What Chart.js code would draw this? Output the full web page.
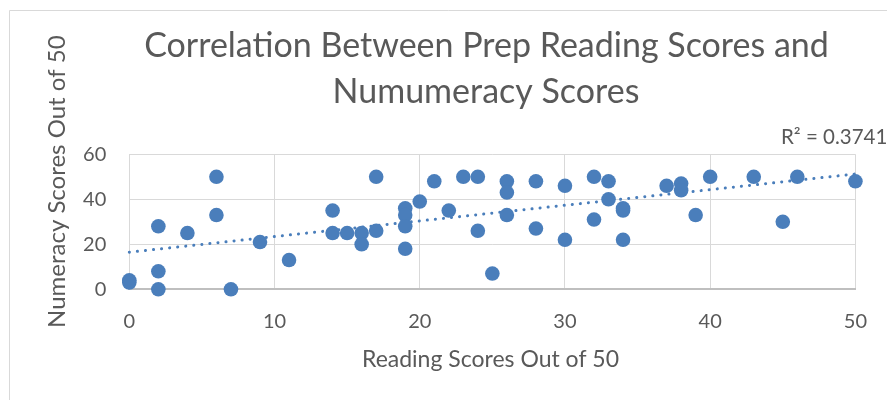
<!DOCTYPE html>
<html>
<head>
<meta charset="utf-8">
<script src="https://cdn.jsdelivr.net/npm/chart.js@4.4.1/dist/chart.umd.min.js"></script>
<style>
  html, body { margin: 0; padding: 0; background: #ffffff; }
  canvas { display: block; }
</style>
</head>
<body>
<canvas id="c" width="887" height="400"></canvas>
<script>
// ---- Data ----
const readingScores = [0, 0, 2, 2, 2, 4, 6, 6, 7, 9, 11, 14, 14, 15, 16, 16, 17, 17, 19, 19, 19, 19, 20, 21, 22, 23, 24, 24, 25, 26, 26, 26, 28, 28, 30, 30, 32, 32, 33, 33, 34, 34, 34, 37, 38, 38, 39, 40, 43, 45, 46, 50];
const numeracyScores = [4, 3, 0, 8, 28, 25, 50, 33, 0, 21, 13, 35, 25, 25, 25, 20, 50, 26, 36, 33, 28, 18, 39, 48, 35, 50, 50, 26, 7, 48, 43, 33, 48, 27, 46, 22, 50, 31, 48, 40, 36, 35, 22, 46, 47, 44, 33, 50, 50, 30, 50, 48];
const xTicks = [0, 10, 20, 30, 40, 50];
const yTicks = [0, 20, 40, 60];
const titleLines = ["Correlation Between Prep Reading Scores and", "Numumeracy Scores"];
const xAxisTitle = "Reading Scores Out of 50";
const yAxisTitle = "Numeracy Scores Out of 50";
const rSquaredLabel = "R\u00B2 = 0.3741";

// ---- Linear trendline (least squares over the data) ----
const n = readingScores.length;
const mx = readingScores.reduce((a, b) => a + b, 0) / n;
const my = numeracyScores.reduce((a, b) => a + b, 0) / n;
let sxy = 0, sxx = 0;
for (let i = 0; i < n; i++) {
  sxy += (readingScores[i] - mx) * (numeracyScores[i] - my);
  sxx += (readingScores[i] - mx) ** 2;
}
const slope = sxy / sxx;
const intercept = my - slope * mx;
const trendX = [xTicks[0], xTicks[xTicks.length - 1]];

const points = readingScores.map((x, i) => ({ x: x, y: numeracyScores[i] }));
const trendPoints = trendX.map(x => ({ x: x, y: intercept + slope * x }));

const TEXT = '#595959';
const FONT = 'Lato';
const BLUE = '#4A7EBB';

const decorations = {
  id: 'decorations',
  beforeDraw(chart) {
    const ctx = chart.ctx;
    ctx.save();
    ctx.fillStyle = '#ffffff';
    ctx.fillRect(0, 0, chart.width, chart.height);
    ctx.strokeStyle = '#d9d9d9';
    ctx.lineWidth = 1;
    ctx.beginPath();
    ctx.moveTo(9.5, 401);
    ctx.lineTo(9.5, 10.5);
    ctx.lineTo(888, 10.5);
    ctx.stroke();
    ctx.restore();
  },
  afterDraw(chart) {
    const ctx = chart.ctx;
    ctx.save();
    ctx.fillStyle = TEXT;
    ctx.textBaseline = 'alphabetic';
    // Title
    ctx.font = '34px ' + FONT;
    ctx.textAlign = 'center';
    ctx.fillText(titleLines[0], 486.5, 57.3);
    ctx.fillText(titleLines[1], 486, 103.3);
    // R squared label
    ctx.font = '20.5px ' + FONT;
    ctx.textAlign = 'left';
    ctx.fillText(rSquaredLabel, 781, 144);
    // X axis title
    ctx.font = '23px ' + FONT;
    ctx.textAlign = 'center';
    ctx.fillText(xAxisTitle, 490.5, 366.7);
    // Y axis title
    ctx.font = '24px ' + FONT;
    ctx.translate(65, 181.7);
    ctx.rotate(-Math.PI / 2);
    ctx.fillText(yAxisTitle, 0, 0);
    ctx.restore();
  }
};

new Chart(document.getElementById('c'), {
  type: 'scatter',
  data: {
    datasets: [
      {
        label: 'Scores',
        data: points,
        backgroundColor: BLUE,
        borderColor: BLUE,
        borderWidth: 0,
        pointRadius: 7.3,
        pointHoverRadius: 7.3,
        clip: false
      },
      {
        label: 'Linear trend',
        type: 'line',
        data: trendPoints,
        borderColor: BLUE,
        borderWidth: 3,
        borderDash: [0.1, 8],
        borderCapStyle: 'round',
        pointRadius: 0,
        fill: false,
        tension: 0,
        clip: false
      }
    ]
  },
  options: {
    responsive: false,
    devicePixelRatio: 1,
    animation: false,
    layout: { padding: { top: 154.3, right: 29.2, left: 0, bottom: 0 } },
    plugins: {
      legend: { display: false },
      title: { display: false },
      tooltip: { enabled: false }
    },
    scales: {
      x: {
        type: 'linear',
        min: xTicks[0],
        max: xTicks[xTicks.length - 1],
        afterBuildTicks(scale) { scale.ticks = xTicks.map(v => ({ value: v })); },
        afterFit(scale) { scale.height = 110.7; },
        grid: { color: '#d9d9d9', lineWidth: 1, drawTicks: false },
        border: { display: true, color: '#bfbfbf', width: 2 },
        ticks: { color: TEXT, font: { family: FONT, size: 20 }, padding: 20, maxRotation: 0 }
      },
      y: {
        type: 'linear',
        min: yTicks[0],
        max: yTicks[yTicks.length - 1],
        afterBuildTicks(scale) { scale.ticks = yTicks.map(v => ({ value: v })); },
        afterFit(scale) { scale.width = 129.3; },
        grid: { color: '#d9d9d9', lineWidth: 1, drawTicks: false },
        border: { display: false },
        ticks: { color: TEXT, font: { family: FONT, size: 20 }, padding: 23 }
      }
    }
  },
  plugins: [decorations]
});
</script>
</body>
</html>
